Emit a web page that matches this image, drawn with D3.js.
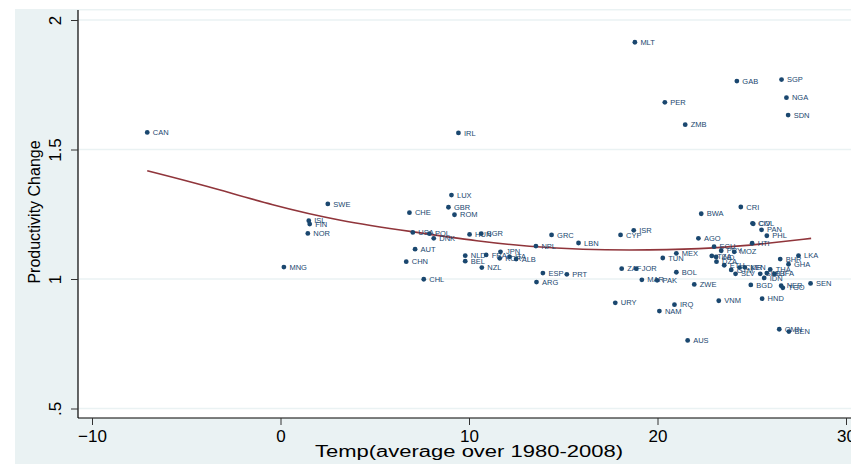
<!DOCTYPE html>
<html>
<head>
<meta charset="utf-8">
<script src="https://cdn.jsdelivr.net/npm/d3@7"></script>
<style>
  body { margin: 0; background: #fff; }
  svg { display: block; font-family: Arial, "Liberation Sans", sans-serif; }
</style>
</head>
<body>
<script>
// country codes, average temperature, productivity change
const countries = ['CAN','MNG','SWE','ISL','FIN','NOR','CHE','USA','AUT','CHN','CHL','POL','DNK','LUX','GBR','ROM','IRL','HUN','BGR','NLD','BEL','FRA','JPN','KOR','ITA','ALB','NZL','NPL','GRC','LBN','ESP','ARG','PRT','CYP','ISR','ZAF','JOR','URY','MAR','PAK','TUN','MEX','BOL','IRQ','NAM','ZWE','AUS','MLT','PER','ZMB','GAB','SGP','NGA','SDN','BWA','CRI','CIV','COL','PAN','PHL','AGO','HTI','ECU','PRY','MOZ','TZA','IND','DZA','ETH','GTM','SLV','CMR','KEN','SLE','MLI','THA','IDN','BFA','BHR','LKA','GHA','SEN','NER','TGO','BGD','HND','VNM','OMN','BEN']
const temps = [-7.07,0.18,2.51,1.50,1.55,1.45,6.84,7.02,7.14,6.67,7.60,7.90,8.13,9.07,8.91,9.23,9.44,10.03,10.65,9.80,9.80,10.91,11.67,11.63,12.15,12.50,10.68,13.55,14.38,15.81,13.92,13.58,15.19,18.04,18.74,18.10,18.87,17.76,19.17,19.98,20.28,21.00,21.00,20.90,20.10,21.95,21.60,18.80,20.39,21.47,24.21,26.58,26.84,26.93,22.32,24.42,25.04,25.08,25.52,25.80,22.17,25.02,23.00,23.38,24.07,22.88,23.11,23.13,23.54,23.91,24.14,24.35,24.63,25.45,25.80,25.98,25.66,26.20,26.51,27.48,26.95,28.12,26.56,26.65,24.95,25.55,23.25,26.46,26.97]
const prodChange = [1.566,1.046,1.290,1.225,1.212,1.176,1.256,1.180,1.115,1.067,0.999,1.175,1.157,1.324,1.277,1.248,1.564,1.172,1.175,1.090,1.069,1.093,1.105,1.080,1.086,1.077,1.044,1.127,1.170,1.139,1.023,0.988,1.018,1.170,1.188,1.040,1.040,0.908,0.997,0.995,1.081,1.099,1.026,0.901,0.876,0.979,0.763,1.914,1.682,1.596,1.764,1.770,1.700,1.633,1.252,1.278,1.215,1.213,1.190,1.167,1.157,1.138,1.125,1.109,1.105,1.089,1.085,1.067,1.053,1.035,1.020,1.044,1.045,1.020,1.023,1.037,1.004,1.020,1.077,1.090,1.057,0.983,0.974,0.966,0.977,0.924,0.916,0.806,0.797]

// smoothed fit
const fitX = [-7.07,-3.94,-0.41,3.13,7.02,10.56,13.21,15.86,19.58,23.11,25.77,28.15]
const fitY = [1.418,1.360,1.284,1.224,1.182,1.145,1.125,1.113,1.111,1.118,1.137,1.157]

const xTicks = [-10, 0, 10, 20, 30]
const yTicks = [0.5, 1, 1.5, 2]
const yTickLabels = ['.5', '1', '1.5', '2']

const width = 851, height = 464
const plot = {left: 78, top: 10, right: 900, bottom: 418}

const svg = d3.select('body').append('svg')
  .attr('width', width)
  .attr('height', height)

// graph region
svg.append('rect')
  .attr('x', 15).attr('y', 9)
  .attr('width', width).attr('height', height)
  .attr('fill', '#eaf2f3')

// plot region
svg.append('rect')
  .attr('x', plot.left).attr('y', plot.top + 0.5)
  .attr('width', plot.right - plot.left).attr('height', plot.bottom - plot.top - 0.5)
  .attr('fill', '#fff')

const x = d3.scaleLinear().domain([-10, 30]).range([92, 846])
const y = d3.scaleLinear().domain([0.5, 2]).range([408.5, 20])

// gridlines
svg.append('g')
  .selectAll('line')
  .data(yTicks)
  .enter().append('line')
  .attr('x1', plot.left).attr('x2', plot.right)
  .attr('y1', d => y(d)).attr('y2', d => y(d))
  .attr('stroke', '#eaf2f3')
  .attr('stroke-width', 1.3)

// y axis
const yAxis = svg.append('g')
  .attr('transform', `translate(${plot.left},0)`)
  .call(d3.axisLeft(y).tickValues(yTicks).tickSize(7).tickSizeOuter(0)
    .tickFormat((d, i) => yTickLabels[i]))
yAxis.select('.domain').attr('d', `M0,${plot.top}V${plot.bottom}`).attr('stroke', '#000').attr('stroke-width', 1.2)
yAxis.selectAll('.tick line').attr('stroke', '#333')
yAxis.selectAll('.tick text')
  .attr('font-size', 17)
  .attr('fill', '#000')
  .attr('text-anchor', 'middle')
  .attr('transform', 'rotate(-90)')
  .attr('x', 0)
  .attr('dy', 0)
  .attr('y', -17)

// x axis
const xAxis = svg.append('g')
  .attr('transform', `translate(0,${plot.bottom})`)
  .call(d3.axisBottom(x).tickValues(xTicks).tickSize(7).tickSizeOuter(0))
xAxis.select('.domain').attr('d', `M${plot.left},0H${plot.right}`).attr('stroke', '#000').attr('stroke-width', 1.2)
xAxis.selectAll('.tick line').attr('stroke', '#333')
xAxis.selectAll('.tick text')
  .attr('font-size', 17)
  .attr('fill', '#000')
  .attr('y', 12)

// axis titles
svg.append('text')
  .attr('x', 469).attr('y', 457)
  .attr('text-anchor', 'middle')
  .attr('font-size', 16)
  .attr('textLength', 308)
  .attr('lengthAdjust', 'spacingAndGlyphs')
  .text('Temp(average over 1980-2008)')

svg.append('text')
  .attr('transform', 'translate(40,212) rotate(-90)')
  .attr('text-anchor', 'middle')
  .attr('font-size', 16)
  .text('Productivity Change')

// fitted curve
const fit = fitX.map((d, i) => [d, fitY[i]])
svg.append('path')
  .datum(fit)
  .attr('fill', 'none')
  .attr('stroke', '#90353b')
  .attr('stroke-width', 1.6)
  .attr('d', d3.line().x(d => x(d[0])).y(d => y(d[1])).curve(d3.curveBasis))

// points and labels
const points = countries.map((c, i) => ({name: c, t: temps[i], p: prodChange[i]}))
const g = svg.append('g')
g.selectAll('circle')
  .data(points)
  .enter().append('circle')
  .attr('cx', d => x(d.t))
  .attr('cy', d => y(d.p))
  .attr('r', 2.4)
  .attr('fill', '#1a476f')
g.selectAll('text')
  .data(points)
  .enter().append('text')
  .attr('x', d => x(d.t) + 5.5)
  .attr('y', d => y(d.p))
  .attr('dy', '0.35em')
  .attr('font-size', 7.5)
  .attr('fill', '#1a476f')
  .text(d => d.name)
</script>
</body>
</html>
